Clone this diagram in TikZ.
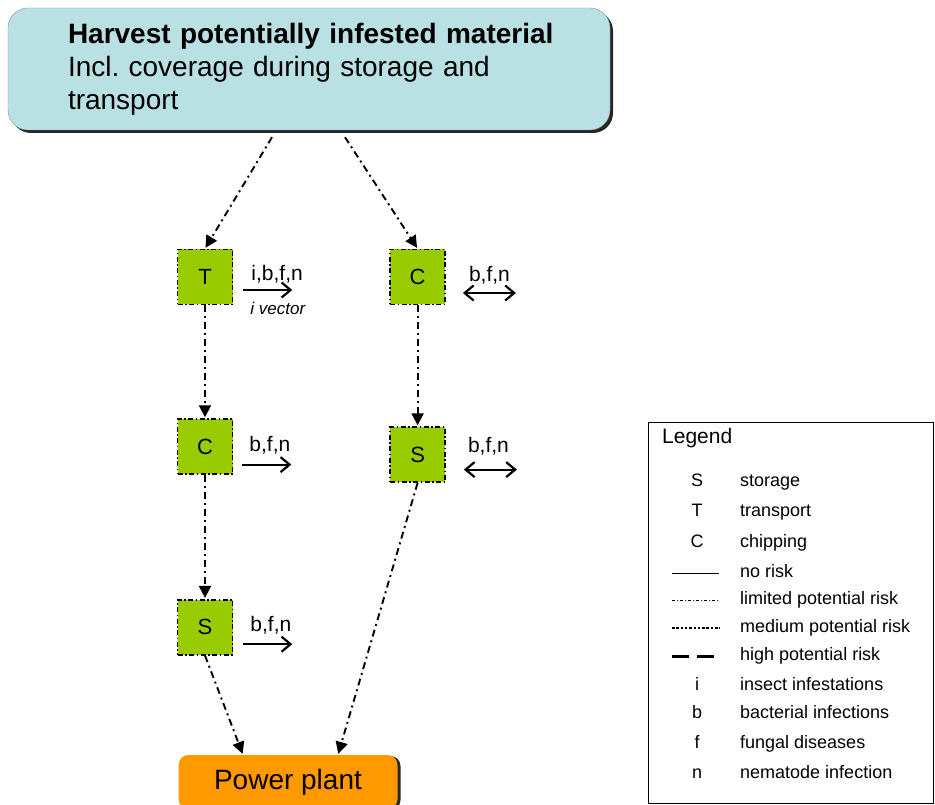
\documentclass[tikz,border=0pt]{standalone}
\usepackage{fontspec}
\setmainfont{Liberation Sans}
\usepackage{tikz}
\usetikzlibrary{positioning,arrows.meta,shadows}

\definecolor{harvestblue}{HTML}{B9E0E3}
\definecolor{stepgreen}{HTML}{99CC00}
\definecolor{plantorange}{HTML}{FF9900}

\frenchspacing

\begin{document}
\begin{tikzpicture}[x=1pt, y=1pt]

        \useasboundingbox (0,0) rectangle (935,-805);
        \clip (0,0) rectangle (935,-805);

        % Styles
        \tikzstyle{harvestbox} = [draw=harvestblue!70!black, rectangle, rounded corners=20pt, minimum height=122pt, text width=482pt, inner xsep=60pt, align=left, fill=harvestblue, font=\fontsize{28}{33}\selectfont, drop shadow={shadow xshift=3pt, shadow yshift=-3pt, fill=black!85, opacity=1}]
        \tikzstyle{stepbox} = [draw, rectangle, line width=1.6pt, dash pattern=on 5pt off 2.5pt on 1.5pt off 2.5pt, minimum width=55pt, minimum height=55pt, inner sep=0pt, fill=stepgreen, font=\fontsize{22}{24}\selectfont]
        \tikzstyle{plantbox} = [rectangle, rounded corners=10pt, minimum width=219pt, minimum height=54pt, fill=plantorange, font=\fontsize{28}{30}\selectfont, drop shadow={shadow xshift=3pt, shadow yshift=-1pt, fill=black!85, opacity=1}]
        \tikzstyle{limited} = [-{Triangle[length=12pt, width=12pt]}, line width=1.9pt, dash pattern=on 7pt off 4pt on 2pt off 4pt, shorten >=1pt]
        \tikzstyle{side} = [-{Straight Barb[length=9pt, width=15pt]}, line width=2.2pt]
        \tikzstyle{both} = [{Straight Barb[length=9pt, width=15pt]}-{Straight Barb[length=9pt, width=15pt]}, line width=2.2pt]
        \tikzstyle{risk} = [anchor=base west, inner sep=0pt, font=\fontsize{21}{23}\selectfont]
        \tikzstyle{legendbox} = [draw, rectangle, line width=1pt, minimum width=285pt, minimum height=381pt, anchor=north west]
        \tikzstyle{legsym} = [inner sep=0pt, text height=13pt, text depth=4pt, font=\fontsize{18}{20}\selectfont]
        \tikzstyle{legtxt} = [anchor=west, inner sep=0pt, text height=13pt, text depth=4pt, font=\fontsize{18}{20}\selectfont]

        % Nodes
        \node [harvestbox] (harvest) at (309,-69) {\mbox{\textbf{Harvest potentially infested material}}\\ Incl. coverage during storage and\\ transport};
        \node [stepbox] (T) at (205,-277) {T};
        \node [stepbox, below=113pt of T] (C1) {C};
        \node [stepbox, below=124pt of C1] (S1) {S};
        \node [stepbox, right=156pt of T] (C2) {C};
        \node [stepbox, below=121pt of C2] (S2) {S};
        \node [plantbox] (plant) at (288,-782) {Power plant};

        % Arrows
        \draw[limited] ([xshift=-37pt, yshift=-7pt]harvest.south) -- (T.north);
        \draw[limited] ([xshift=36pt, yshift=-7pt]harvest.south) -- (C2.north);
        \draw[limited] (T) -- (C1);
        \draw[limited] (C1) -- (S1);
        \draw[limited] (C2) -- (S2);
        \draw[limited] (S1.south) -- ([xshift=-45pt]plant.north);
        \draw[limited] (S2.south) -- ([xshift=50pt]plant.north);

        % Risks
        \draw[side] ([xshift=10pt, yshift=-13pt]T.east) -- ++(49,0)
            node[risk, pos=0, xshift=7pt, yshift=10pt] (rT) {i,b,f,n}
            node[risk, pos=0, xshift=6pt, yshift=-24pt, font=\fontsize{17}{19}\selectfont\itshape] (vT) {i vector};
        \draw[side] ([xshift=9pt, yshift=-18pt]C1.east) -- ++(49,0)
            node[risk, pos=0, xshift=6pt, yshift=13pt] (rC1) {b,f,n};
        \draw[side] ([xshift=10pt, yshift=-17pt]S1.east) -- ++(49,0)
            node[risk, pos=0, xshift=6pt, yshift=13pt] (rS1) {b,f,n};
        \draw[both] ([xshift=17pt, yshift=-16pt]C2.east) -- ++(53,0)
            node[risk, pos=0, xshift=5pt, yshift=11pt] (rC2) {b,f,n};
        \draw[both] ([xshift=18pt, yshift=-15pt]S2.east) -- ++(53,0)
            node[risk, pos=0, xshift=3pt, yshift=17pt] (rS2) {b,f,n};

        % Legend
        \node [legendbox] (legend) at (648,-422) {};
        \node [anchor=west, inner sep=0pt, font=\fontsize{21}{23}\selectfont] (legtitle) at (662,-438) {Legend};
        \foreach \sym/\txt/\y in {S/storage/482, T/transport/512, C/chipping/543, i/insect infestations/686, b/bacterial infections/714, f/fungal diseases/744, n/nematode infection/774} {
            \node [legsym] (ls-\y) at (697,-\y) {\sym};
            \node [legtxt] (lt-\y) at (740,-\y) {\txt};
        }
        \draw[line width=1pt] (672,-573) -- (719,-573);
        \draw[line width=0.9pt, dash pattern=on 3pt off 2pt on 1pt off 2pt] (672,-600) -- (719,-600);
        \draw[line width=2.5pt, dash pattern=on 2.5pt off 1.8pt] (672,-628) -- (720,-628);
        \draw[line width=3pt, dash pattern=on 17pt off 8pt] (672,-656) -- (718,-656);
        \foreach \txt/\y in {no risk/573, limited potential risk/600, medium potential risk/628, high potential risk/656} {
            \node [legtxt] (lt-\y) at (740,-\y) {\txt};
        }

\end{tikzpicture}
\end{document}
